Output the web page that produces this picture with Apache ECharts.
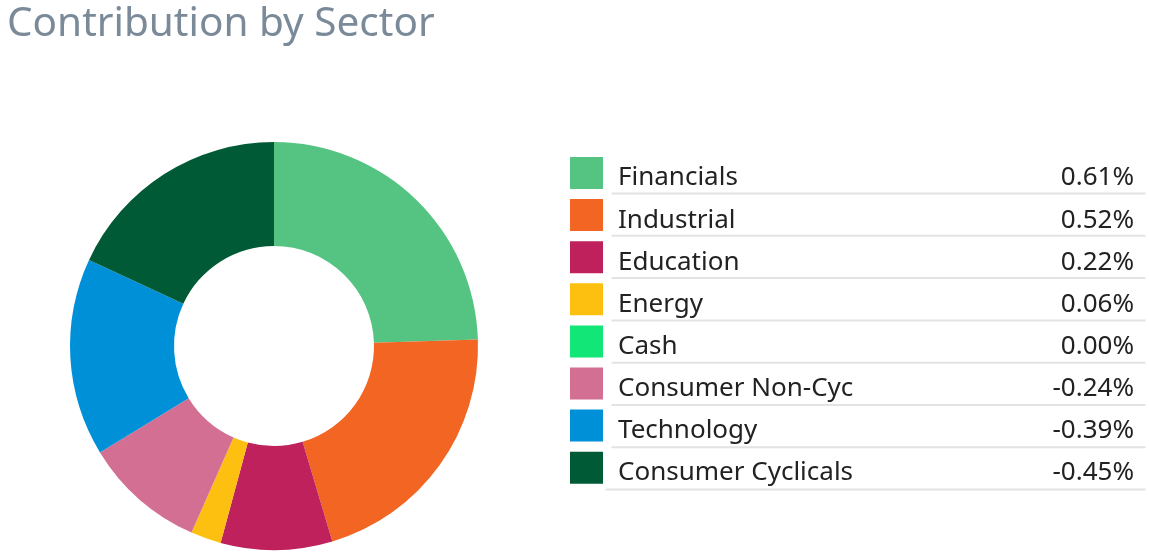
<!DOCTYPE html>
<html>
<head>
<meta charset="utf-8">
<script src="https://cdn.jsdelivr.net/npm/echarts@6/dist/echarts.min.js"></script>
<style>
html,body{margin:0;padding:0;background:#fff;}
#chart{width:1149px;height:557px;}
</style>
</head>
<body>
<div id="chart"></div>
<script>
const sectors = ['Financials','Industrial','Education','Energy','Cash','Consumer Non-Cyc','Technology','Consumer Cyclicals'];
const contributions = [0.61, 0.52, 0.22, 0.06, 0.00, -0.24, -0.39, -0.45];
const colors = ['#55c482','#f26522','#be215b','#fdc010','#12e676','#d46f94','#0090d8','#005a35'];

const chart = echarts.init(document.getElementById('chart'));
const valueMap = {};
sectors.forEach((s, i) => { valueMap[s] = contributions[i].toFixed(2) + '%'; });

const rowGap = 42.3;
const separators = sectors.map((s, i) => ({
  type: 'line',
  shape: { x1: 0, y1: 0, x2: i === sectors.length - 1 ? 540 : 534, y2: 0 },
  top: 191 + rowGap * i,
  left: i === sectors.length - 1 ? 603 : 609,
  style: { stroke: '#e3e3e3', lineWidth: 2 },
  silent: true
}));

chart.setOption({
  animation: false,
  color: colors,
  title: {
    text: 'Contribution by Sector',
    left: 2,
    top: -1,
    textStyle: { fontFamily: 'Noto Sans', fontSize: 40.5, fontWeight: 'normal', color: '#7a8a99' }
  },
  legend: {
    orient: 'vertical',
    left: 570,
    top: 155,
    padding: 0,
    itemWidth: 33,
    itemHeight: 32,
    itemGap: 6.1,
    icon: 'rect',
    selectedMode: false,
    data: sectors,
    formatter: function (name) {
      return '{n|' + name + '}{v|' + valueMap[name] + '}';
    },
    textStyle: {
      fontFamily: 'Noto Sans',
      fontSize: 26,
      lineHeight: 22,
      color: '#222',
      rich: {
        n: { fontFamily: 'Noto Sans', fontSize: 26, color: '#222', width: 400, lineHeight: 22, padding: [10, 0, 0, 10] },
        v: { fontFamily: 'Noto Sans', fontSize: 26, color: '#222', width: 116, lineHeight: 22, align: 'right', padding: [10, 0, 0, 0] }
      }
    }
  },
  graphic: separators,
  series: [{
    type: 'pie',
    center: [274, 346],
    radius: [100, 204],
    startAngle: 90,
    clockwise: true,
    avoidLabelOverlap: false,
    label: { show: false },
    labelLine: { show: false },
    emphasis: { disabled: true },
    itemStyle: { borderWidth: 0 },
    data: sectors.map((s, i) => ({ name: s, value: Math.abs(contributions[i]) }))
  }]
});
</script>
</body>
</html>
